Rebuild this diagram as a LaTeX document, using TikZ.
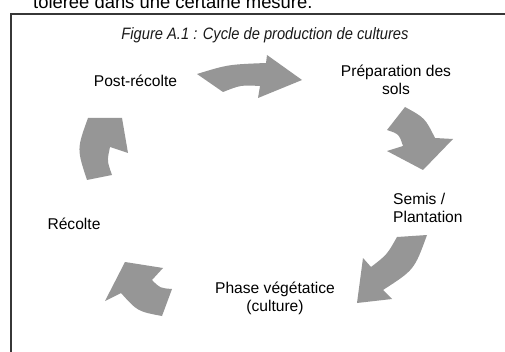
\documentclass[tikz,border=0pt]{standalone}
\usepackage{fontspec}
\setmainfont{Liberation Sans}
\newfontfamily\capfont[FakeStretch=0.89]{Liberation Sans}
\definecolor{arrowgray}{RGB}{150,150,150}
\definecolor{framegray}{RGB}{55,55,55}
\begin{document}
\begin{tikzpicture}[x=1pt,y=-1pt,
  lbl/.style={font=\fontsize{15.6}{18}\selectfont, inner sep=0pt, align=center},
  blockarrow/.style={fill=arrowgray, draw=none}]
\useasboundingbox (0,0) rectangle (505,352);
\fill[white] (0,0) rectangle (505,352);
% text above the frame (cut off in the reference)
\node[anchor=base west, inner sep=0pt, font=\fontsize{18.4}{20}\selectfont] (intro) at (33,8.5) {tolérée dans une certaine mesure.};
% frame
\draw[framegray, line width=2pt] (11,14.5) rectangle (540,390);
% caption
\node[anchor=base, inner sep=0pt, font=\capfont\itshape\fontsize{16.5}{18}\selectfont, text=black!90] (caption) at (265,39.5) {Figure A.1 : Cycle de production de cultures};
% labels
\node[lbl] (post) at (135.5,81) {Post-récolte};
\node[lbl] (prep) at (396,79.5) {Préparation des\\sols};
\node[lbl, align=left, anchor=west] (semis) at (393,208) {Semis /\\Plantation};
\node[lbl] (phase) at (275,298.5) {Phase végétatice\\(culture)};
\node[lbl] (recolte) at (74,224) {Récolte};
% curved block arrows
\fill[blockarrow] (197,74) .. controls (228,64.5) .. (266,63) -- (267,55) -- (302,80) -- (258,98) -- (260,86) .. controls (240.8,85) .. (223,92) -- cycle;
\fill[blockarrow] (405,107) -- (387,130) .. controls (399,134) .. (403,146) -- (387,151) -- (423,170) -- (453,139) -- (435,138) .. controls (425,118) .. cycle;
\fill[blockarrow] (397,237) -- (427,235) .. controls (414.3,269.8) .. (383,290) -- (392,299) -- (357,303) -- (363,258) -- (371,267) .. controls (387,254.7) .. cycle;
\fill[blockarrow] (125,262) -- (105,301) -- (121,293) .. controls (137.6,311.4) .. (162,316) -- (172,289) .. controls (160,288.1) .. (152,280) -- (163,268) -- cycle;
\fill[blockarrow] (88,118) -- (122,118) -- (128,153) -- (110,147) .. controls (107,161) .. (112,175) -- (87,180) .. controls (76.8,149) .. cycle;
\end{tikzpicture}
\end{document}
